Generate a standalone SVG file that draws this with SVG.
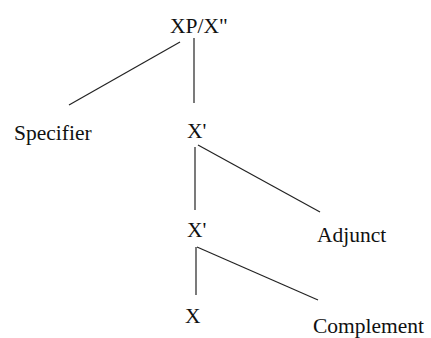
<svg xmlns="http://www.w3.org/2000/svg" width="431" height="338" viewBox="0 0 431 338">
<style>
text{font-family:"Liberation Serif","Times New Roman",serif;font-size:21.5px;fill:#111}
.e{stroke:#222;stroke-width:1.2;fill:none}
</style>
<rect width="431" height="338" fill="#fff"/>
<g id="connectors">
<line class="e" x1="194" y1="38" x2="194" y2="103"/>
<line class="e" x1="180" y1="42" x2="69" y2="105"/>
<line class="e" x1="195" y1="147" x2="195" y2="210"/>
<line class="e" x1="198" y1="145" x2="320" y2="212"/>
<line class="e" x1="196" y1="247" x2="196" y2="295"/>
<line class="e" x1="197" y1="247" x2="318" y2="300"/>
</g>
<g id="xp"><text x="170" y="33">XP/X"</text></g>
<g id="specifier"><text x="14" y="140">Specifier</text></g>
<g id="xbar1"><text x="187" y="138">X'</text></g>
<g id="adjunct"><text x="317" y="242">Adjunct</text></g>
<g id="xbar2"><text x="187" y="237">X'</text></g>
<g id="x"><text x="185" y="323">X</text></g>
<g id="complement"><text x="313" y="333">Complement</text></g>
</svg>
